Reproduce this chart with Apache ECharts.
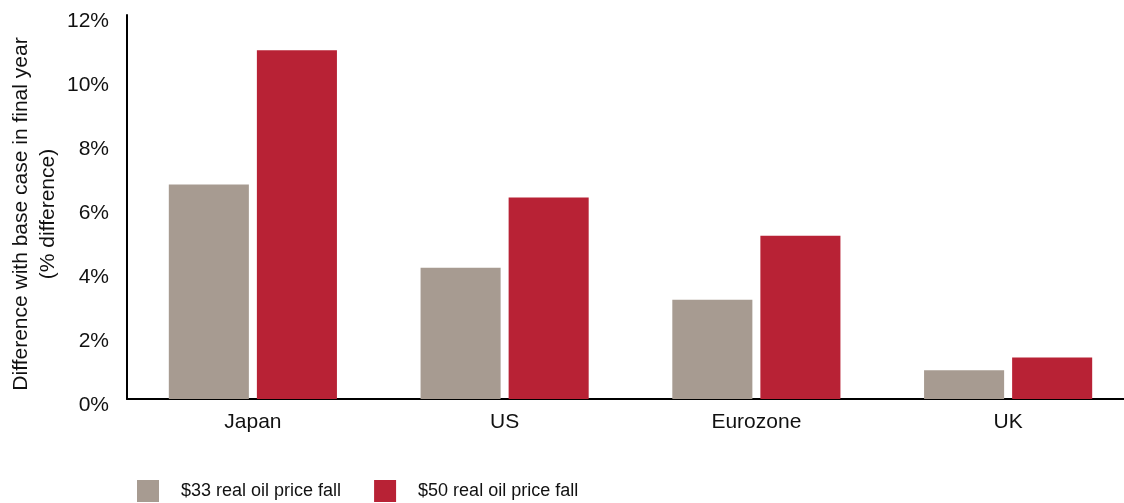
<!DOCTYPE html>
<html>
<head>
<meta charset="utf-8">
<script src="https://cdn.jsdelivr.net/npm/echarts@6/dist/echarts.min.js"></script>
<style>
  html, body { margin: 0; padding: 0; background: #fff; }
  #chart { width: 1124px; height: 503px; }
</style>
</head>
<body>
<div id="chart"></div>
<script>
const categories = ['Japan', 'US', 'Eurozone', 'UK'];
const seriesNames = ['$33 real oil price fall', '$50 real oil price fall'];
const fall33 = [6.7, 4.1, 3.1, 0.9];
const fall50 = [10.9, 6.3, 5.1, 1.3];
const yTicks = [0, 2, 4, 6, 8, 10, 12];

const FONT = '"Liberation Sans", Arial, Helvetica, sans-serif';
const chart = echarts.init(document.getElementById('chart'));
chart.setOption({
  animation: false,
  textStyle: { fontFamily: FONT },
  grid: { left: 127, width: 1007, top: 15, bottom: 104, outerBoundsMode: 'none', containLabel: false },
  legend: {
    left: 132,
    top: 475,
    itemWidth: 22,
    itemHeight: 22,
    itemGap: 33,
    icon: 'rect',
    textStyle: { fontFamily: FONT, fontSize: 18, color: '#111', padding: [0, 0, 0, 17] },
    data: seriesNames
  },
  xAxis: {
    type: 'category',
    data: categories,
    axisLine: { lineStyle: { color: '#000', width: 2 } },
    axisTick: { show: false },
    axisLabel: { fontFamily: FONT, fontSize: 21, color: '#111', margin: 13 }
  },
  yAxis: {
    type: 'value',
    min: yTicks[0],
    max: yTicks[yTicks.length - 1],
    interval: 2,
    name: 'Difference with base case in final year\n(% difference)',
    nameLocation: 'middle',
    nameRotate: 90,
    nameGap: 65,
    nameMoveOverlap: false,
    nameTextStyle: { fontFamily: FONT, fontSize: 21, color: '#111', lineHeight: 27, padding: [0, 14, 0, 0] },
    axisLine: { show: true, lineStyle: { color: '#000', width: 2 } },
    axisTick: { show: false },
    splitLine: { show: false },
    axisLabel: {
      fontFamily: FONT, fontSize: 21, color: '#111', margin: 18,
      verticalAlign: 'top', lineHeight: 12,
      formatter: v => v + '%'
    }
  },
  series: [
    { name: seriesNames[0], type: 'bar', data: fall33, barWidth: '31.8%', barGap: '10%', itemStyle: { color: '#a79b91' } },
    { name: seriesNames[1], type: 'bar', data: fall50, barWidth: '31.8%', barGap: '10%', itemStyle: { color: '#b82235' } }
  ]
});
</script>
</body>
</html>
